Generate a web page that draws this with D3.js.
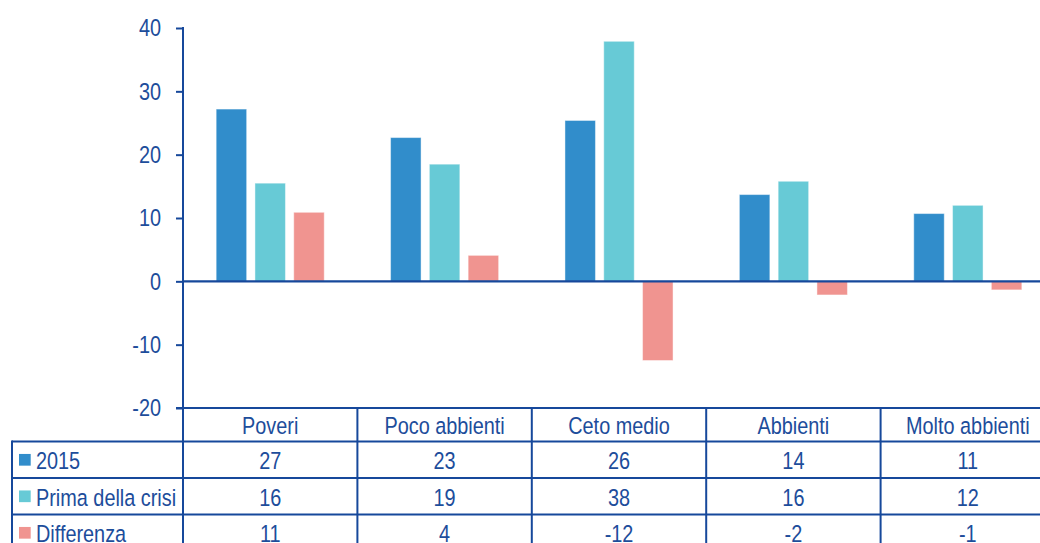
<!DOCTYPE html>
<html>
<head>
<meta charset="utf-8">
<script src="https://cdn.jsdelivr.net/npm/d3@7"></script>
<style>
  html, body { margin: 0; padding: 0; background: #ffffff; }
  svg { display: block; }
  text { font-family: "Liberation Sans", Arial, sans-serif; font-size: 23.5px; }
</style>
</head>
<body>
<svg id="chart" width="1040" height="543"></svg>
<script>
// ---- data ----
const categories = ["Poveri", "Poco abbienti", "Ceto medio", "Abbienti", "Molto abbienti"];
const seriesNames = ["2015", "Prima della crisi", "Differenza"];
const values2015 = [27.2, 22.7, 25.4, 13.7, 10.7];
const valuesPrima = [15.5, 18.5, 37.9, 15.8, 12.0];
const valuesDiff = [10.9, 4.1, -12.5, -2.15, -1.35];
const table2015 = ["27", "23", "26", "14", "11"];
const tablePrima = ["16", "19", "38", "16", "12"];
const tableDiff = ["11", "4", "-12", "-2", "-1"];
const yTicks = [-20, -10, 0, 10, 20, 30, 40];
const colors = ["#318dcb", "#67cad6", "#f09490"];

const seriesValues = [values2015, valuesPrima, valuesDiff];
const tableRows = [table2015, tablePrima, tableDiff];

const lineColor = "#16489b";
const textColor = "#1d4d9b";
const NARROW = 0.845;

const svg = d3.select("#chart");

function narrowText(parent, tx, ty, str, anchor) {
  return parent.append("text")
    .attr("transform", `translate(${tx},${ty}) scale(${NARROW},1)`)
    .attr("x", 0).attr("y", 0)
    .attr("dy", "0.36em")
    .attr("text-anchor", anchor)
    .attr("fill", textColor)
    .text(str);
}

const y = d3.scaleLinear().domain([-20, 40]).range([408, 28]);
const x = d3.scaleBand().domain(categories).range([183, 183 + 5 * 174.4]).padding(0);
const xs = d3.scaleBand().domain(seriesNames).range([0, x.bandwidth()])
  .paddingInner(0.214).paddingOuter(0.855);

// bars
seriesNames.forEach((s, si) => {
  svg.append("g").selectAll("rect")
    .data(categories.map((c, ci) => ({ c, v: seriesValues[si][ci] })))
    .join("rect")
    .attr("x", d => x(d.c) + xs(s))
    .attr("width", xs.bandwidth())
    .attr("y", d => y(Math.max(0, d.v)))
    .attr("height", d => Math.abs(y(d.v) - y(0)))
    .attr("fill", colors[si])
    .attr("stroke", "rgba(255,255,255,0.45)")
    .attr("stroke-width", 1);
});

// y axis ticks (lines via d3.axisLeft, labels narrowed)
const yAxis = d3.axisLeft(y).tickValues(yTicks).tickSize(7).tickFormat("");
const ga = svg.append("g").attr("transform", "translate(183,0)").call(yAxis);
ga.select(".domain").remove();
ga.selectAll(".tick line").attr("stroke", lineColor).attr("stroke-width", 2);
const gl = svg.append("g");
yTicks.forEach(t => narrowText(gl, 161, y(t), String(t), "end"));

// axis vertical line
svg.append("line").attr("x1", 183).attr("x2", 183).attr("y1", y(40) - 1).attr("y2", 560)
  .attr("stroke", lineColor).attr("stroke-width", 2);

// zero line
svg.append("line").attr("x1", 183).attr("x2", 1060).attr("y1", y(0)).attr("y2", y(0))
  .attr("stroke", lineColor).attr("stroke-width", 2.2);

// table
const rowLines = [y(-20), 441.5, 478, 514.5, 551];
svg.append("line").attr("x1", 176).attr("x2", 1060).attr("y1", rowLines[0]).attr("y2", rowLines[0])
  .attr("stroke", lineColor).attr("stroke-width", 2);
rowLines.slice(1).forEach(ry => {
  svg.append("line").attr("x1", 12).attr("x2", 1060).attr("y1", ry).attr("y2", ry)
    .attr("stroke", lineColor).attr("stroke-width", 2);
});
svg.append("line").attr("x1", 12).attr("x2", 12).attr("y1", rowLines[1] - 1).attr("y2", 560)
  .attr("stroke", lineColor).attr("stroke-width", 2);
categories.forEach(c => {
  const bx = x(c) + x.bandwidth();
  svg.append("line").attr("x1", bx).attr("x2", bx).attr("y1", rowLines[0]).attr("y2", 560)
    .attr("stroke", lineColor).attr("stroke-width", 2);
});

// header text
const gh = svg.append("g");
categories.forEach(c => narrowText(gh, x(c) + x.bandwidth() / 2, (rowLines[0] + rowLines[1]) / 2 + 1, c, "middle"));

// rows
seriesNames.forEach((s, si) => {
  const cy = (rowLines[si + 1] + rowLines[si + 2]) / 2 + 1;
  svg.append("rect").attr("x", 19).attr("y", cy - 6.8).attr("width", 11.7).attr("height", 11.7)
    .attr("fill", colors[si]);
  const gr = svg.append("g");
  narrowText(gr, 36, cy, s, "start");
  categories.forEach((c, ci) => narrowText(gr, x(c) + x.bandwidth() / 2, cy, tableRows[si][ci], "middle"));
});
</script>
</body>
</html>
